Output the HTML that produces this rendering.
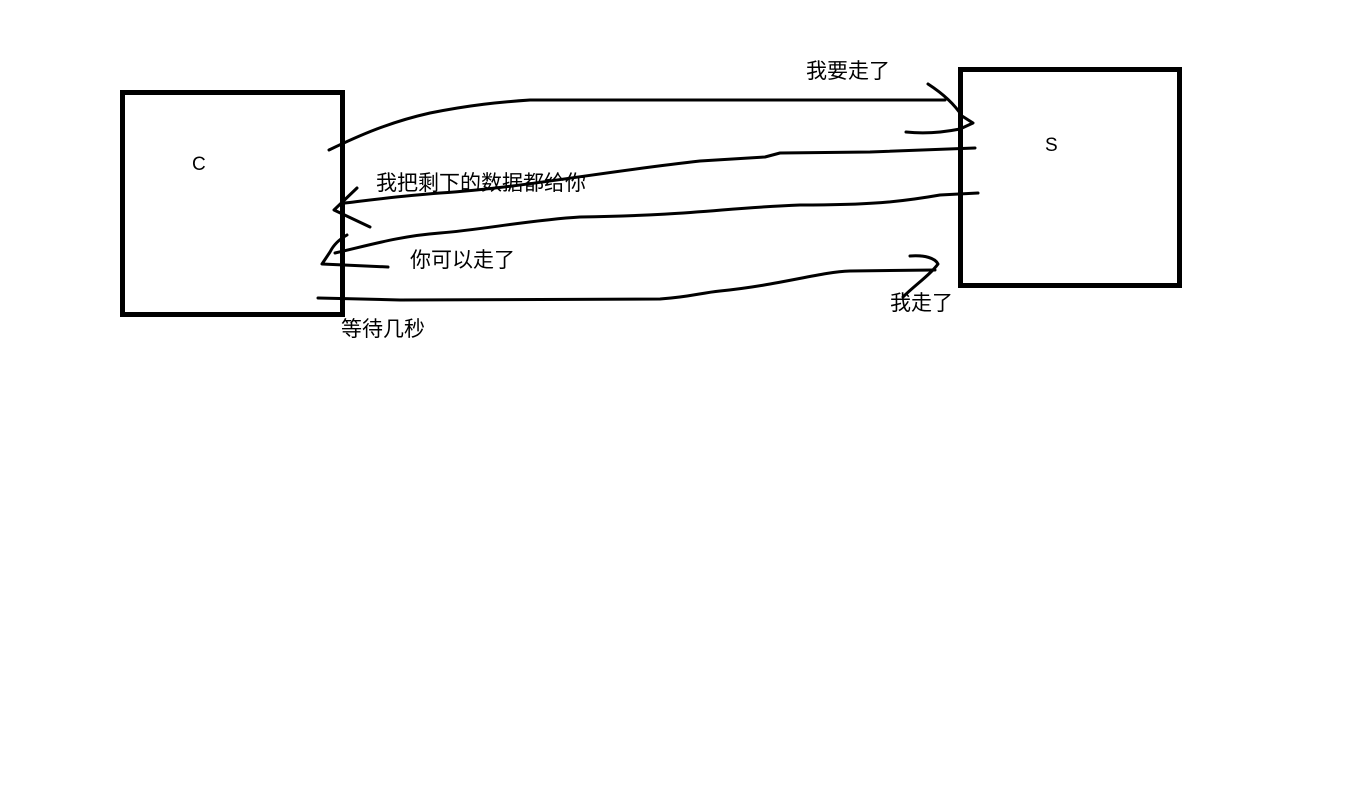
<!DOCTYPE html>
<html><head><meta charset="utf-8"><style>
html,body{margin:0;padding:0;background:#fff;}
body{width:1354px;height:790px;position:relative;overflow:hidden;font-family:"Liberation Sans","Noto Sans CJK SC",sans-serif;}
svg{position:absolute;left:0;top:0;}
text{font-family:"Liberation Sans","Noto Sans CJK SC",sans-serif;font-size:21px;fill:#000;}
</style></head><body>
<svg width="1354" height="790" viewBox="0 0 1354 790">
<rect x="122.5" y="92.5" width="220" height="222" fill="none" stroke="#000" stroke-width="5"/>
<rect x="960.5" y="69.5" width="219" height="216" fill="none" stroke="#000" stroke-width="5"/>
<g fill="none" stroke="#000" stroke-width="3" stroke-linecap="round" stroke-linejoin="round">
<path d="M329,150 C360,135 390,122 430,113 C470,105 500,102 530,100 L945,100"/>
<path d="M928,84 C945,95 955,105 962,116 L973,123 L960,129 C945,132 925,134 906,132"/>
<path d="M975,148 L870,152 L780,153 L765,157 L700,161 C600,172 520,188 440,193 C400,196 370,200 345,203"/>
<path d="M357,188 L334,210 L370,227"/>
<path d="M978,193 L940,195 C900,202 870,205 800,205 C720,208 700,215 580,217 C530,220 480,230 440,233 C400,236 370,245 335,253"/>
<path d="M347,235 C338,240 333,246 330,252 L322,264 L388,267"/>
<path d="M318,298 L400,300 L660,299 C690,297 700,293 720,291 C780,285 820,272 850,271 L935,270"/>
<path d="M910,256 C925,255 935,258 938,264 C930,275 915,285 903,297"/>
</g>
<text x="192" y="170" style="font-size:19px">C</text>
<text x="1045" y="151" style="font-size:19px">S</text>
<text x="806" y="78">我要走了</text>
<text x="376" y="190">我把剩下的数据都给你</text>
<text x="410" y="267">你可以走了</text>
<text x="890" y="310">我走了</text>
<text x="341" y="336">等待几秒</text>
</svg>
</body></html>
